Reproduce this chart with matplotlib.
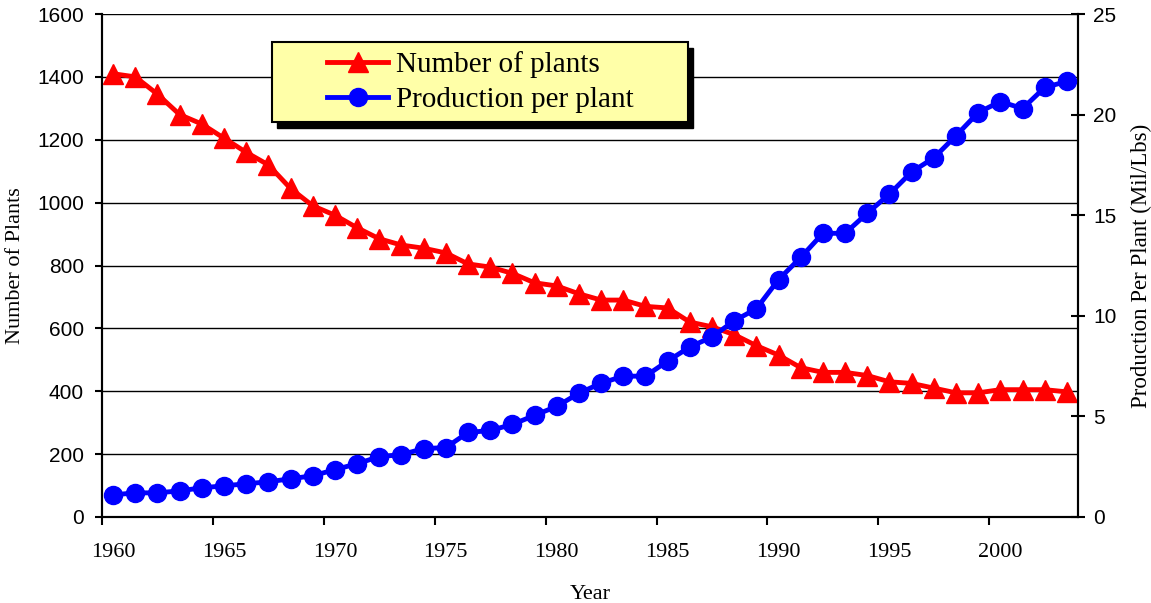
import numpy as np
import matplotlib
matplotlib.use('Agg')
import matplotlib.pyplot as plt
from matplotlib.patches import Rectangle

# Data
years = np.arange(1960, 2004)
num_plants = [1410, 1400, 1345, 1280, 1250, 1205, 1160, 1120, 1045, 990,
              960, 920, 885, 865, 855, 840, 805, 795, 775, 745,
              735, 710, 690, 690, 670, 665, 620, 605, 580, 545,
              515, 475, 460, 460, 450, 430, 425, 410, 395, 395,
              405, 405, 405, 398]
prod_per_plant = [1.1, 1.2, 1.2, 1.3, 1.45, 1.55, 1.65, 1.75, 1.9, 2.05,
                  2.35, 2.65, 3.0, 3.1, 3.4, 3.45, 4.2, 4.3, 4.6, 5.05,
                  5.5, 6.15, 6.65, 7.0, 7.0, 7.75, 8.45, 8.95, 9.75, 10.35,
                  11.8, 12.9, 14.1, 14.1, 15.1, 16.05, 17.15, 17.85, 18.95, 20.1,
                  20.65, 20.3, 21.35, 21.65]
tick_years = [1960, 1965, 1970, 1975, 1980, 1985, 1990, 1995, 2000]

serif = 'Liberation Serif'
sans = 'Liberation Sans'

fig = plt.figure(figsize=(11.51, 6.03), dpi=100)
ax = fig.add_axes([102 / 1151, 86 / 603, 976 / 1151, 503 / 603])
ax2 = ax.twinx()

# Number of plants (left axis)
l1, = ax.plot(years, num_plants, color='#FF0000', lw=3.5, marker='^',
              markersize=15, label='Number of plants', clip_on=False, zorder=3)
# Production per plant (right axis)
l2, = ax2.plot(years, prod_per_plant, color='#0000FF', lw=3.5, marker='o',
               markersize=13, label='Production per plant', clip_on=False, zorder=3)

# Excel-style category axis: tick marks between categories, labels on them
ax.set_xlim(1959.5, 2003.5)
ax.set_xticks([y - 0.5 for y in tick_years])
ax.set_xticklabels([])
ax.set_xticks(tick_years, minor=True)
ax.set_xticklabels([str(y) for y in tick_years], minor=True,
                   fontfamily=serif, fontsize=16)
ax.tick_params(axis='x', which='major', direction='out', length=6, width=1.5)
ax.tick_params(axis='x', which='minor', length=0, pad=19)

ax.set_ylim(0, 1600)
ax.set_yticks(np.arange(0, 1601, 200))
ax.tick_params(axis='y', direction='out', length=5, width=1.5, pad=8, labelsize=15)
for t in ax.get_yticklabels():
    t.set_fontfamily(sans)
ax.yaxis.grid(True, color='black', lw=1.0)
ax.set_axisbelow(True)

ax2.set_ylim(0, 25)
ax2.set_yticks(np.arange(0, 26, 5))
ax2.tick_params(axis='y', direction='inout', length=10, width=1.5, pad=6, labelsize=15)
for t in ax2.get_yticklabels():
    t.set_fontfamily(sans)

for a in (ax, ax2):
    a.spines['top'].set_visible(False)
    for s in ('left', 'right', 'bottom'):
        a.spines[s].set_linewidth(1.5)

ax.set_xlabel('Year', fontfamily=serif, fontsize=16, labelpad=16)
ax.set_ylabel('Number of Plants', fontfamily=serif, fontsize=16, labelpad=9)
ax2.set_ylabel('Production Per Plant (Mil/Lbs)', fontfamily=serif, fontsize=16.5,
               labelpad=10)

# Legend box with shadow
fig.patches.append(Rectangle((277 / 1151, 1 - 128 / 603), 416 / 1151, 80 / 603,
                             transform=fig.transFigure, facecolor='black',
                             edgecolor='black', zorder=4))
fig.patches.append(Rectangle((272 / 1151, 1 - 122 / 603), 416 / 1151, 80 / 603,
                             transform=fig.transFigure, facecolor='#FFFFA8',
                             edgecolor='black', lw=1.5, zorder=4))
fig.legend(handles=[l1, l2], loc='upper left',
           bbox_to_anchor=(327 / 1151, 1 - 51 / 603), bbox_transform=fig.transFigure,
           frameon=False, borderpad=0, borderaxespad=0, handlelength=2.1,
           handletextpad=0.25, labelspacing=0.3,
           prop={'family': serif, 'size': 21}).set_zorder(5)

fig.savefig('out.png', dpi=100)
